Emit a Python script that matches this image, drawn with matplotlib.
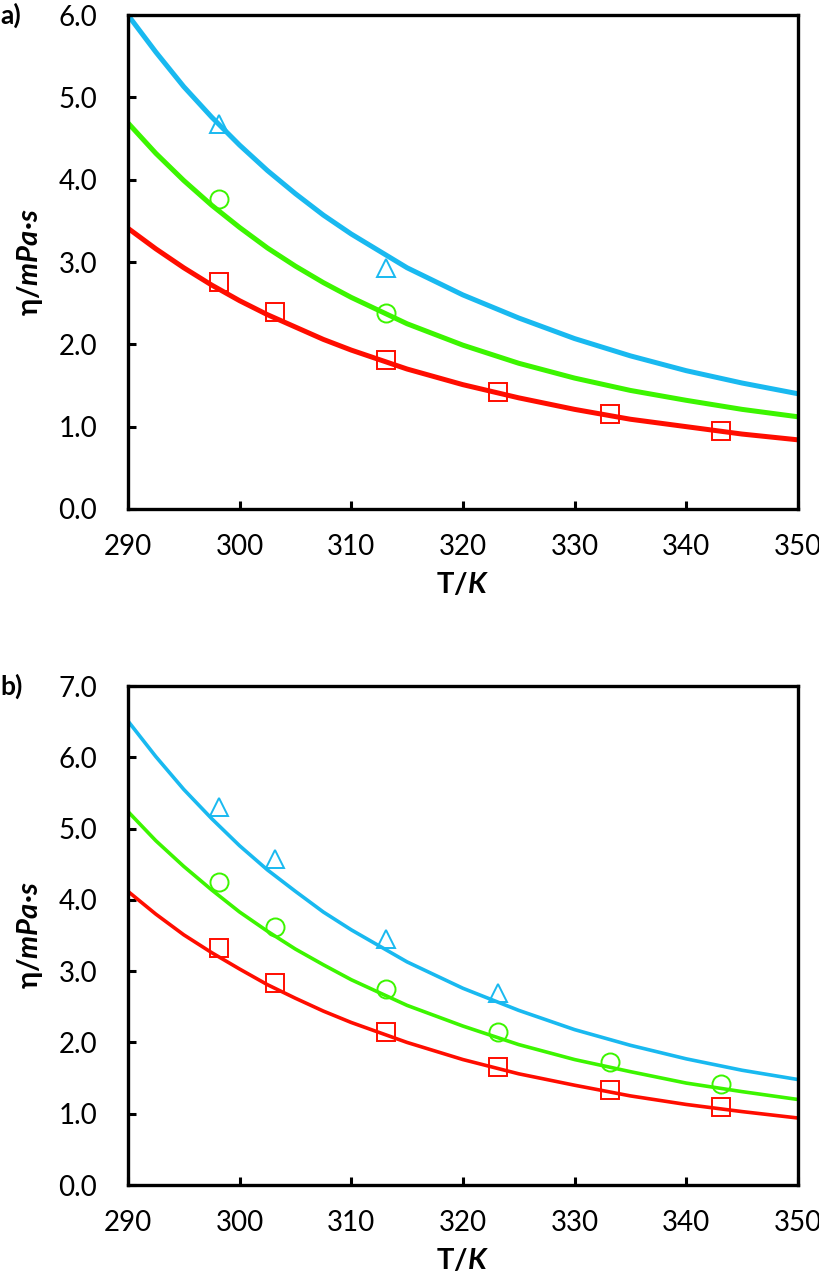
import matplotlib
matplotlib.use('Agg')
from matplotlib import pyplot as plt

plt.rcParams['font.family'] = ['Lato', 'DejaVu Sans']
plt.rcParams['mathtext.fontset'] = 'custom'
plt.rcParams['mathtext.rm'] = 'Lato'
plt.rcParams['mathtext.bf'] = 'Lato:bold'
plt.rcParams['mathtext.bfit'] = 'Lato:bold:italic'
plt.rcParams['mathtext.it'] = 'Lato:italic'

# temperature grid of the fitted curves (K)
T_fit = [290, 292.5, 295, 297.5, 300, 302.5, 305, 307.5, 310, 315, 320, 325,
         330, 335, 340, 345, 350]

# panel a) curves
a_fit_blue = [6.00, 5.55, 5.13, 4.76, 4.42, 4.11, 3.83, 3.57, 3.34, 2.93, 2.60,
              2.32, 2.07, 1.86, 1.68, 1.53, 1.40]
a_fit_green = [4.69, 4.32, 3.99, 3.69, 3.42, 3.17, 2.95, 2.75, 2.57, 2.25, 1.99,
               1.77, 1.59, 1.44, 1.32, 1.21, 1.12]
a_fit_red = [3.41, 3.16, 2.93, 2.72, 2.53, 2.36, 2.21, 2.06, 1.93, 1.70, 1.51,
             1.35, 1.21, 1.09, 1.00, 0.91, 0.84]

# panel a) experimental points
a_T_tri = [298.15, 313.15]
a_tri = [4.68, 2.93]
a_T_circ = [298.15, 313.15]
a_circ = [3.77, 2.38]
a_T_sq = [298.15, 303.15, 313.15, 323.15, 333.15, 343.15]
a_sq = [2.76, 2.39, 1.81, 1.42, 1.15, 0.95]

# panel b) curves
b_fit_blue = [6.51, 6.01, 5.55, 5.14, 4.76, 4.42, 4.12, 3.83, 3.58, 3.13, 2.76,
              2.45, 2.18, 1.96, 1.77, 1.61, 1.48]
b_fit_green = [5.24, 4.83, 4.47, 4.14, 3.83, 3.56, 3.31, 3.09, 2.88, 2.52, 2.23,
               1.97, 1.76, 1.59, 1.43, 1.31, 1.20]
b_fit_red = [4.12, 3.80, 3.51, 3.26, 3.03, 2.81, 2.62, 2.44, 2.28, 2.00, 1.76,
             1.56, 1.40, 1.25, 1.13, 1.03, 0.94]

# panel b) experimental points
b_T_tri = [298.15, 303.15, 313.15, 323.15]
b_tri = [5.31, 4.58, 3.45, 2.70]
b_T_circ = [298.15, 303.15, 313.15, 323.15, 333.15, 343.15]
b_circ = [4.25, 3.62, 2.75, 2.14, 1.72, 1.41]
b_T_sq = [298.15, 303.15, 313.15, 323.15, 333.15, 343.15]
b_sq = [3.33, 2.83, 2.15, 1.66, 1.33, 1.09]

c_blue = '#19b9f0'
c_green = '#3cf500'
c_red = '#ff0d00'

fig = plt.figure(figsize=(8.2, 12.84), dpi=100)
ax1 = fig.add_axes([0.156, 0.6036, 0.817, 0.3847])
ax2 = fig.add_axes([0.156, 0.0771, 0.817, 0.3886])


def draw(ax, fb, fg, fr, Tt, yt, Tc, yc, Ts, ys, lw, ymax, tag):
    ax.plot(T_fit, fb, color=c_blue, lw=lw, solid_capstyle='butt',
            solid_joinstyle='round', zorder=2)
    ax.plot(T_fit, fg, color=c_green, lw=lw, solid_capstyle='butt',
            solid_joinstyle='round', zorder=2)
    ax.plot(T_fit, fr, color=c_red, lw=lw, solid_capstyle='butt',
            solid_joinstyle='round', zorder=2)
    ax.plot(Tt, yt, '^', ms=13, mfc='none', mec=c_blue, mew=1.4, zorder=3)
    ax.plot(Tc, yc, 'o', ms=13, mfc='none', mec=c_green, mew=1.4, zorder=3)
    ax.plot(Ts, ys, 's', ms=12.5, mfc='none', mec=c_red, mew=1.4, zorder=3)
    ax.set_xlim(290, 350)
    ax.set_ylim(0, ymax)
    ax.set_xticks(range(290, 351, 10))
    ax.set_yticks([i * 1.0 for i in range(int(ymax) + 1)])
    ax.set_yticklabels(['%.1f' % (i * 1.0) for i in range(int(ymax) + 1)])
    for s in ax.spines.values():
        s.set_linewidth(2.4)
    ax.tick_params(direction='in', length=6, width=2.2, labelsize=20)
    ax.tick_params(axis='y', pad=22)
    ax.tick_params(axis='x', pad=18)
    ax.set_xlabel(r'$\mathbf{T/}\mathbfit{K}$', fontsize=21, labelpad=8)
    ax.set_ylabel(r'$\mathbf{\eta/}\mathbfit{mPa·s}$', fontsize=21, labelpad=10)
    ax.text(-0.156 / 0.817, 1.0, tag, transform=ax.transAxes, fontsize=19,
            fontweight='bold', ha='left', va='center')


draw(ax1, a_fit_blue, a_fit_green, a_fit_red, a_T_tri, a_tri, a_T_circ, a_circ,
     a_T_sq, a_sq, 3.6, 6, 'a)')
draw(ax2, b_fit_blue, b_fit_green, b_fit_red, b_T_tri, b_tri, b_T_circ, b_circ,
     b_T_sq, b_sq, 2.6, 7, 'b)')

plt.savefig('out.png', dpi=100)
